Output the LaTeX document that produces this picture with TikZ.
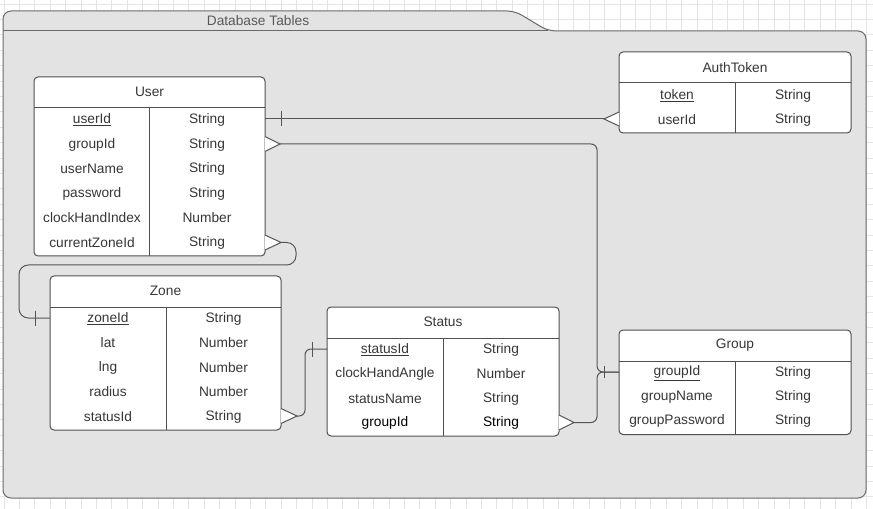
\documentclass[tikz,border=0pt]{standalone}
\usepackage{fontspec}
\setmainfont{Liberation Sans}
\definecolor{panelgray}{RGB}{227,227,227}
\definecolor{paneledge}{RGB}{105,105,105}
\definecolor{boxgray}{RGB}{80,80,80}
\definecolor{linegray}{RGB}{85,85,85}
\definecolor{textgray}{RGB}{55,55,55}
\definecolor{gridgray}{RGB}{228,228,228}

\begin{document}
\begin{tikzpicture}[x=0.75pt,y=0.75pt,yscale=-1,xscale=1,
  tablebox/.style={draw=boxgray, fill=white, rounded corners=3pt, line width=0.75pt},
  rule/.style={draw=boxgray, line width=0.75pt},
  conn/.style={draw=linegray, line width=0.75pt, rounded corners=4.5pt},
  crowfoot/.style={draw=linegray, fill=white, line width=0.75pt},
  cell/.style={inner sep=0.75pt, yshift=-0.75pt, text=textgray, font=\fontsize{10.3}{12}\selectfont},
  ]
\useasboundingbox (0,0) rectangle (873,509);

%Shape: Grid (canvas)
\begin{scope}[shift={(3.9,3.9)}]
\draw [gridgray, line width=0.5pt, step=11.55pt] (-3.9,-3.9) grid (869.1,505.1);
\end{scope}

%Shape: Container [Database Tables]
\draw [draw=paneledge, fill=panelgray, line width=0.75pt, rounded corners=6pt] (3,498) -- (3,11) -- (515,11) -- (548,31) -- (866,31) -- (866,498) -- cycle ;
\draw [draw=paneledge, line width=0.75pt] (3,31) -- (548,31) ;

%Shape: Table [User]
\draw [tablebox] (34,77) rectangle (265,256) ;
\draw [rule] (34,108) -- (265,108) (149,108) -- (149,256) ;
%Shape: Table [AuthToken]
\draw [tablebox] (619,52) rectangle (851,133) ;
\draw [rule] (619,83) -- (851,83) (735,83) -- (735,133) ;
%Shape: Table [Zone]
\draw [tablebox] (50,276) rectangle (281,430) ;
\draw [rule] (50,307) -- (281,307) (166,307) -- (166,430) ;
%Shape: Table [Status]
\draw [tablebox] (327,307) rectangle (559,436) ;
\draw [rule] (327,338) -- (559,338) (443,338) -- (443,436) ;
%Shape: Table [Group]
\draw [tablebox] (619,330) rectangle (851,434.5) ;
\draw [rule] (619,361) -- (851,361) (735,361) -- (735,434.5) ;

% Attach points
\coordinate (u-userId-e) at (265,119) ;
\coordinate (u-groupId-e) at (265,144) ;
\coordinate (u-currentZoneId-e) at (265,242.5) ;
\coordinate (a-userId-w) at (619,119) ;
\coordinate (z-zoneId-w) at (50,318) ;
\coordinate (z-statusId-e) at (281,416) ;
\coordinate (s-statusId-w) at (327,349) ;
\coordinate (s-groupId-e) at (559,422.5) ;
\coordinate (g-groupId-w) at (619,372) ;

%Connector: User.userId -- AuthToken.userId
\draw [conn] (u-userId-e) -- (a-userId-w) ;
\draw [conn] (u-userId-e) ++(16,-7.5) -- ++(0,15) ;
\filldraw [crowfoot] (a-userId-w) ++(0,-7) -- ++(-15,7) -- ++(15,7) ;
%Connector: User.groupId -- Group.groupId
\draw [conn] (u-groupId-e) -- ++(332,0) |- (g-groupId-w) ;
\filldraw [crowfoot] (u-groupId-e) ++(0,-7.5) -- ++(15,7.5) -- ++(-15,7.5) ;
%Connector: Status.groupId -- Group.groupId
\draw [conn] (s-groupId-e) -- ++(38,0) |- (g-groupId-w) ;
\filldraw [crowfoot] (s-groupId-e) ++(0,-7.5) -- ++(15,7.5) -- ++(-15,7.5) ;
\draw [conn] (g-groupId-w) ++(-15,-6) -- ++(0,12) ;
%Connector: User.currentZoneId -- Zone.zoneId
\draw [conn, rounded corners=7pt] (u-currentZoneId-e) -- ++(31,0) -- ++(0,22.5) -- ++(-277,0) |- (z-zoneId-w) ;
\filldraw [crowfoot] (u-currentZoneId-e) ++(0,-7.5) -- ++(16,7.5) -- ++(-16,7.5) ;
\draw [conn] (z-zoneId-w) ++(-15,-7.5) -- ++(0,15) ;
%Connector: Zone.statusId -- Status.statusId
\draw [conn] (z-statusId-e) -- ++(24,0) |- (s-statusId-w) ;
\filldraw [crowfoot] (z-statusId-e) ++(0,-7.5) -- ++(16,7.5) -- ++(-16,7.5) ;
\draw [conn] (s-statusId-w) ++(-15,-7.5) -- ++(0,15) ;

% Text Node
\node [cell, text=black!65] (title) at (258,20) {Database Tables};

% Text Node [User]
\node [cell] (u-head) at (149.5,91) {User};
\node [cell] (u-userId) at (92,119) {\underline{userId}};
\node [cell] (u-userId-t) at (207,119) {String};
\node [cell] (u-groupId) at (92,143.5) {groupId};
\node [cell] (u-groupId-t) at (207,143.5) {String};
\node [cell] (u-userName) at (92,168) {userName};
\node [cell] (u-userName-t) at (207,168) {String};
\node [cell] (u-password) at (92,192.5) {password};
\node [cell] (u-password-t) at (207,192.5) {String};
\node [cell] (u-clockHandIndex) at (92,217) {clockHandIndex};
\node [cell] (u-clockHandIndex-t) at (207,217) {Number};
\node [cell] (u-currentZoneId) at (92,242) {currentZoneId};
\node [cell] (u-currentZoneId-t) at (207,242) {String};

% Text Node [AuthToken]
\node [cell] (a-head) at (735,67) {AuthToken};
\node [cell] (a-token) at (677,94.5) {\underline{token}};
\node [cell] (a-token-t) at (793,94.5) {String};
\node [cell] (a-userId) at (677,119) {userId};
\node [cell] (a-userId-t) at (793,119) {String};

% Text Node [Zone]
\node [cell] (z-head) at (165.5,290) {Zone};
\node [cell] (z-zoneId) at (108,318) {\underline{zoneId}};
\node [cell] (z-zoneId-t) at (223.5,318) {String};
\node [cell] (z-lat) at (108,342) {lat};
\node [cell] (z-lat-t) at (223.5,342) {Number};
\node [cell] (z-lng) at (108,366.5) {lng};
\node [cell] (z-lng-t) at (223.5,366.5) {Number};
\node [cell] (z-radius) at (108,391) {radius};
\node [cell] (z-radius-t) at (223.5,391) {Number};
\node [cell] (z-statusId) at (108,415.5) {statusId};
\node [cell] (z-statusId-t) at (223.5,415.5) {String};

% Text Node [Status]
\node [cell] (s-head) at (443,321) {Status};
\node [cell] (s-statusId) at (385,348.5) {\underline{statusId}};
\node [cell] (s-statusId-t) at (501,348.5) {String};
\node [cell] (s-clockHandAngle) at (385,373) {clockHandAngle};
\node [cell] (s-clockHandAngle-t) at (501,373) {Number};
\node [cell] (s-statusName) at (385,397.5) {statusName};
\node [cell] (s-statusName-t) at (501,397.5) {String};
\node [cell, text=black] (s-groupId) at (385,422) {groupId};
\node [cell, text=black] (s-groupId-t) at (501,422) {String};

% Text Node [Group]
\node [cell] (g-head) at (735,344) {Group};
\node [cell] (g-groupId) at (677,372) {\underline{groupId}};
\node [cell] (g-groupId-t) at (793,372) {String};
\node [cell] (g-groupName) at (677,396) {groupName};
\node [cell] (g-groupName-t) at (793,396) {String};
\node [cell] (g-groupPassword) at (677,420) {groupPassword};
\node [cell] (g-groupPassword-t) at (793,420) {String};

\end{tikzpicture}
\end{document}
